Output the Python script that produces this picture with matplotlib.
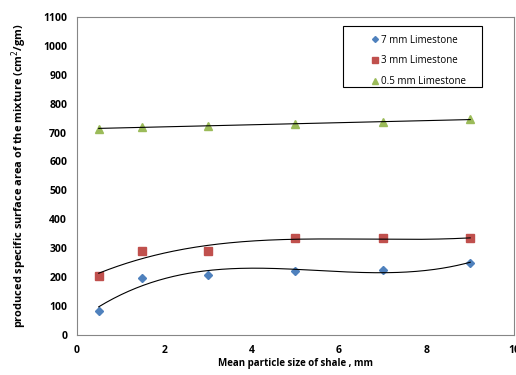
import numpy as np
import matplotlib
matplotlib.use('Agg')
import matplotlib.pyplot as plt
from matplotlib.patches import Rectangle

plt.rcParams['font.family'] = ['Open Sans', 'DejaVu Sans']

# Mean particle size of shale (mm)
shale_size = [0.5, 1.5, 3, 5, 7, 9]

# produced specific surface area (cm2/gm)
ls_7mm = [84, 198, 207, 221, 225, 248]
ls_3mm = [202, 290, 290, 334, 334, 334]
ls_05mm = [713, 720, 723, 730, 736, 746]

labels = ['7 mm Limestone', '3 mm Limestone', '0.5 mm Limestone']
colors = ['#4F81BD', '#C0504D', '#9BBB59']
markers = ['D', 's', '^']
sizes = [4, 6, 6]
trend_order = [3, 3, 1]

fig = plt.figure(figsize=(5.16, 3.75), dpi=100)
ax = fig.add_axes([0.149, 0.107, 0.847, 0.848])

xs = np.linspace(shale_size[0], shale_size[-1], 200)
for ys, lab, c, m, s, order in zip([ls_7mm, ls_3mm, ls_05mm], labels, colors, markers, sizes, trend_order):
    ax.plot(shale_size, ys, linestyle='none', marker=m, color=c, markersize=s, label=lab)
    coef = np.polyfit(shale_size, ys, order)
    ax.plot(xs, np.polyval(coef, xs), color='black', linewidth=0.8)

ax.set_xlim(0, 10)
ax.set_ylim(0, 1100)
ax.set_xticks(range(0, 11, 2))
ax.set_yticks(range(0, 1101, 100))
ax.tick_params(length=0, labelsize=7.5, pad=7)
for t in ax.get_xticklabels() + ax.get_yticklabels():
    t.set_fontweight('bold')
for sp in ax.spines.values():
    sp.set_color('#868686')
    sp.set_linewidth(0.8)

ax.set_xlabel('Mean particle size of shale , mm', fontsize=7, fontweight='bold', labelpad=2)
ax.set_ylabel('produced specific surface area of the mixture (cm$^2$/gm)', fontsize=7.9,
              fontweight='bold', labelpad=10)

# legend box drawn like the Excel one, entries sit on its right side
ax.add_patch(Rectangle((0.609, 0.780), 0.318, 0.192, transform=ax.transAxes, fill=False,
                       edgecolor='black', linewidth=0.8, zorder=5))
ax.legend(loc='upper left', bbox_to_anchor=(0.655, 0.975), fontsize=7, frameon=False,
          handlelength=0.5, handletextpad=0.3, borderpad=0.5, labelspacing=1.0,
          markerscale=0.75)

plt.savefig('out.png', dpi=100)
